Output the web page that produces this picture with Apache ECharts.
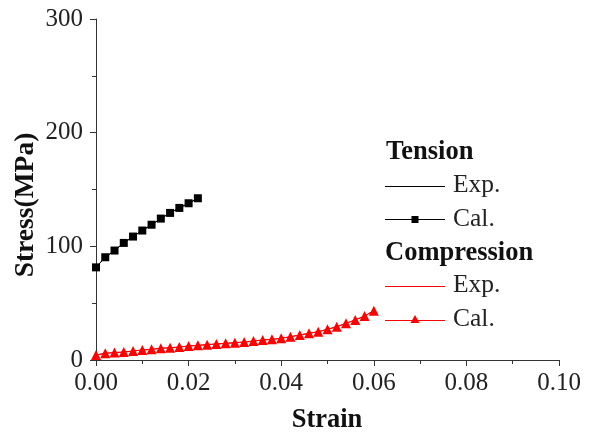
<!DOCTYPE html>
<html><head><meta charset="utf-8">
<script src="https://cdn.jsdelivr.net/npm/echarts@6/dist/echarts.min.js"></script>
<style>html,body{margin:0;padding:0;background:#fff}#c{width:592px;height:434px}</style>
</head><body><div id="c"></div>
<script>
const tensionStrain = [0,0.002,0.004,0.006,0.008,0.010,0.012,0.014,0.016,0.018,0.020,0.022];
const tensionCal = [81.5,90.4,96.3,103,108.6,113.9,119,124.4,129.4,133.8,137.9,142.3];
const tensionExp = [81.5,90.4,96.3,103,108.6,113.9,119,124.4,129.4,133.8,137.9,142.3];
const compStrain = [0,0.002,0.004,0.006,0.008,0.010,0.012,0.014,0.016,0.018,0.020,0.022,0.024,0.026,0.028,0.030,0.032,0.034,0.036,0.038,0.040,0.042,0.044,0.046,0.048,0.050,0.052,0.054,0.056,0.058,0.060];
const compCal = [4.4,5.9,6.5,7,7.9,8.8,9.4,10.3,10.8,11.4,12.3,12.9,13.5,14.1,14.7,15.2,15.8,16.7,17.6,18.2,19.1,20.5,22,23.5,24.9,27,29.3,32.3,35.2,38.7,43.4];
const compExp = [4.4,5.9,6.5,7,7.9,8.8,9.4,10.3,10.8,11.4,12.3,12.9,13.5,14.1,14.7,15.2,15.8,16.7,17.6,18.2,19.1,20.5,22,23.5,24.9,27,29.3,32.3,35.2,38.7,43.4];
const xTicks = [0,0.02,0.04,0.06,0.08,0.10];
const yTicks = [0,100,200,300];

const pair = (xs, ys) => xs.map((x, i) => [x, ys[i]]);
const F = "'Liberation Serif', 'Times New Roman', serif";
const chart = echarts.init(document.getElementById('c'));
const axisCommon = {
  axisLine: {show: true, lineStyle: {color: '#333', width: 1}},
  axisTick: {show: true, inside: false, length: 6, lineStyle: {color: '#333'}},
  minorTick: {show: true, splitNumber: 2, length: 4, lineStyle: {color: '#333'}},
  splitLine: {show: false},
  axisLabel: {fontFamily: F, fontSize: 25, color: '#222'}
};
chart.setOption({
  animation: false,
  grid: {left: 96, right: 33, top: 19, bottom: 74},
  xAxis: Object.assign({}, axisCommon, {
    type: 'value', min: xTicks[0], max: xTicks[xTicks.length-1], interval: 0.02,
    axisLabel: Object.assign({}, axisCommon.axisLabel, {margin: 11, formatter: v => v.toFixed(2)})
  }),
  yAxis: Object.assign({}, axisCommon, {
    type: 'value', min: yTicks[0], max: yTicks[yTicks.length-1], interval: 100,
    axisLabel: Object.assign({}, axisCommon.axisLabel, {margin: 13})
  }),
  series: [
    {type: 'line', data: pair(tensionStrain, tensionExp), symbol: 'none', lineStyle: {color: '#000', width: 1}},
    {type: 'line', data: pair(tensionStrain, tensionCal), symbol: 'rect', symbolSize: 8, itemStyle: {color: '#000'}, lineStyle: {color: '#000', width: 1}},
    {type: 'line', data: pair(compStrain, compExp), symbol: 'none', lineStyle: {color: '#f00', width: 1}},
    {type: 'line', data: pair(compStrain, compCal), symbol: 'triangle', symbolSize: 10, itemStyle: {color: '#f00'}, lineStyle: {color: '#f00', width: 1}}
  ],
  graphic: [
    {type: 'text', x: 26, y: 205, rotation: Math.PI/2, style: {text: 'Stress(MPa)', font: 'bold 27.5px ' + F, fill: '#111', textAlign: 'center', textVerticalAlign: 'middle'}},
    {type: 'text', x: 327, y: 420, style: {text: 'Strain', font: 'bold 26.5px ' + F, fill: '#111', textAlign: 'center', textVerticalAlign: 'middle'}},
    {type: 'text', x: 386, y: 152, style: {text: 'Tension', font: 'bold 26.5px ' + F, fill: '#111', textVerticalAlign: 'middle'}},
    {type: 'line', shape: {x1: 385, y1: 186.5, x2: 445, y2: 186.5}, style: {stroke: '#000', lineWidth: 1}},
    {type: 'text', x: 453, y: 185, style: {text: 'Exp.', font: '25.5px ' + F, fill: '#222', textVerticalAlign: 'middle'}},
    {type: 'line', shape: {x1: 385, y1: 219.5, x2: 445, y2: 219.5}, style: {stroke: '#000', lineWidth: 1}},
    {type: 'rect', shape: {x: 411.5, y: 216, width: 7, height: 7}, style: {fill: '#000'}},
    {type: 'text', x: 453, y: 219, style: {text: 'Cal.', font: '25.5px ' + F, fill: '#222', textVerticalAlign: 'middle'}},
    {type: 'text', x: 385, y: 253, style: {text: 'Compression', font: 'bold 26.5px ' + F, fill: '#111', textVerticalAlign: 'middle'}},
    {type: 'line', shape: {x1: 385, y1: 286.5, x2: 445, y2: 286.5}, style: {stroke: '#f00', lineWidth: 1}},
    {type: 'text', x: 453, y: 285, style: {text: 'Exp.', font: '25.5px ' + F, fill: '#222', textVerticalAlign: 'middle'}},
    {type: 'line', shape: {x1: 385, y1: 320.5, x2: 445, y2: 320.5}, style: {stroke: '#f00', lineWidth: 1}},
    {type: 'polygon', shape: {points: [[415, 315], [410.5, 323], [419.5, 323]]}, style: {fill: '#f00'}},
    {type: 'text', x: 453, y: 319, style: {text: 'Cal.', font: '25.5px ' + F, fill: '#222', textVerticalAlign: 'middle'}}
  ]
});
</script></body></html>
